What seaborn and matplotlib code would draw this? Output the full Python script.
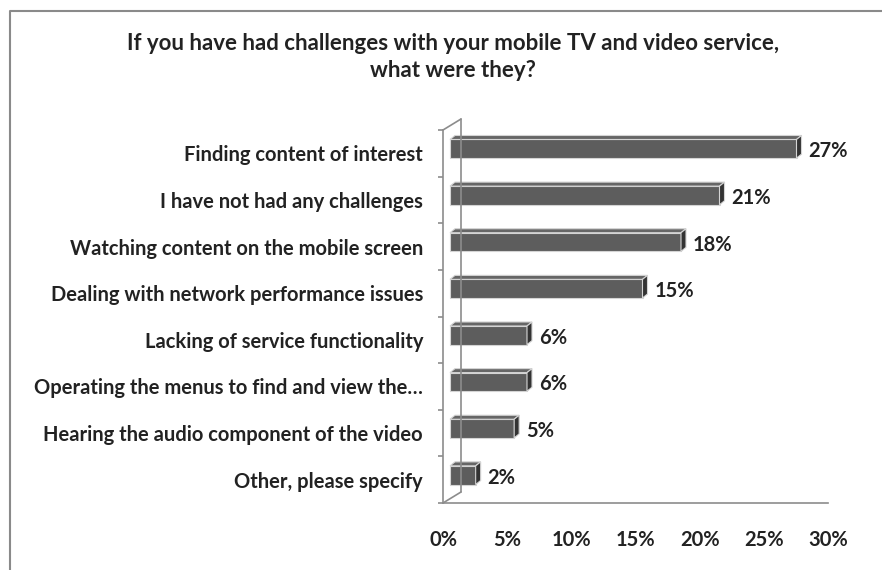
import numpy as np
import pandas as pd
import seaborn as sns
import matplotlib.pyplot as plt
from matplotlib.patches import Polygon
from matplotlib.lines import Line2D
from matplotlib.transforms import ScaledTranslation

# Data
challenges = [
    'Finding content of interest',
    'I have not had any challenges',
    'Watching content on the mobile screen',
    'Dealing with network performance issues',
    'Lacking of service functionality',
    'Operating the menus to find and view the\u2026',
    'Hearing the audio component of the video',
    'Other, please specify',
]
shares = [27, 21, 18, 15, 6, 6, 5, 2]
pct_ticks = [0, 5, 10, 15, 20, 25, 30]

df = pd.DataFrame({'challenge': challenges, 'share': shares})

sns.set_style('white')
plt.rcParams['font.family'] = ['Lato', 'DejaVu Sans']
plt.rcParams['font.weight'] = 'bold'

W, H = 882, 570
PX = 0.72  # points per pixel at dpi 100
grey = '#8c8c8c'
ink = '#222222'
fs = 14.5

fig = plt.figure(figsize=(W / 100, H / 100), dpi=100)
ax = fig.add_axes([443 / W, 1 - 503 / H, 385 / W, 373 / H])

sns.barplot(data=df, x='share', y='challenge', orient='h', color='#5d5d5d',
            saturation=1, width=0.4, edgecolor='#d4d4d4', linewidth=0.8,
            ax=ax, zorder=3)
ax.set_xlim(0, 30)
ax.set_ylim(len(challenges) - 0.5, -0.5)

# fake 3D look: shift front faces, add top and side faces
front = np.array([7.0, 4.5])
depth = np.array([5.0, 4.0])
shift = ScaledTranslation(front[0] / 100, front[1] / 100, fig.dpi_scale_trans)
to_disp = ax.transData.transform
to_data = ax.transData.inverted().transform
for bar in list(ax.patches):
    x0, y0 = bar.get_x(), bar.get_y()
    w, h = bar.get_width(), bar.get_height()
    bar.set_transform(ax.transData + shift)
    tl = to_disp((x0, y0)) + front
    tr = to_disp((x0 + w, y0)) + front
    br = to_disp((x0 + w, y0 + h)) + front
    top = [tl, tr, tr + depth, tl + depth]
    side = [tr, br, br + depth, tr + depth]
    ax.add_patch(Polygon(to_data(np.array(top)), closed=True, facecolor='#666666',
                         edgecolor='#d4d4d4', lw=0.8, zorder=3, clip_on=False))
    ax.add_patch(Polygon(to_data(np.array(side)), closed=True, facecolor='#333333',
                         edgecolor='#d4d4d4', lw=0.8, zorder=3, clip_on=False))

for i, v in enumerate(shares):
    ax.annotate(f'{v}%', xy=(v, i), xytext=(19 * PX, 2 * PX), textcoords='offset points',
                ha='left', va='center', fontsize=fs, color=ink)

ax.set_xticks(pct_ticks)
ax.set_xticklabels([f'{t}%' for t in pct_ticks])
ax.set_yticks(np.arange(-0.5, len(challenges), 1), minor=True)
ax.tick_params(axis='x', length=5 * PX, width=1.2, color=grey, pad=16, labelsize=fs, labelcolor=ink)
ax.tick_params(axis='y', which='major', length=0, pad=20 * PX, labelsize=fs, labelcolor=ink)
ax.tick_params(axis='y', which='minor', length=5 * PX, width=1.2, color=grey, left=True)
ax.set_xlabel('')
ax.set_ylabel('')
sns.despine(ax=ax)
for s in ['left', 'bottom']:
    ax.spines[s].set_color(grey)
    ax.spines[s].set_linewidth(1.2)

# back wall edge and floor/ceiling diagonals
pos = ax.get_position()
dx, dy = 18 / W, 11 / H
bx = pos.x0 + dx
fig.add_artist(Line2D([bx, bx], [pos.y0 + dy, pos.y1 + dy], color=grey, lw=1.2, zorder=1))
fig.add_artist(Line2D([pos.x0, bx], [pos.y0, pos.y0 + dy], color=grey, lw=1.2, zorder=1))
fig.add_artist(Line2D([pos.x0, bx], [pos.y1, pos.y1 + dy], color=grey, lw=1.2, zorder=1))

# outer frame (left and top)
fig.add_artist(Line2D([10 / W, 10 / W, 1], [0, 1 - 11 / H, 1 - 11 / H], color='#8a8a8a', lw=1.5))

fig.text(453 / W, 1 - 44 / H, 'If you have had challenges with your mobile TV and video service,',
         ha='center', va='center', fontsize=16, color=ink)
fig.text(453 / W, 1 - 71 / H, 'what were they?', ha='center', va='center', fontsize=16, color=ink)

fig.savefig('out.png', dpi=100)
